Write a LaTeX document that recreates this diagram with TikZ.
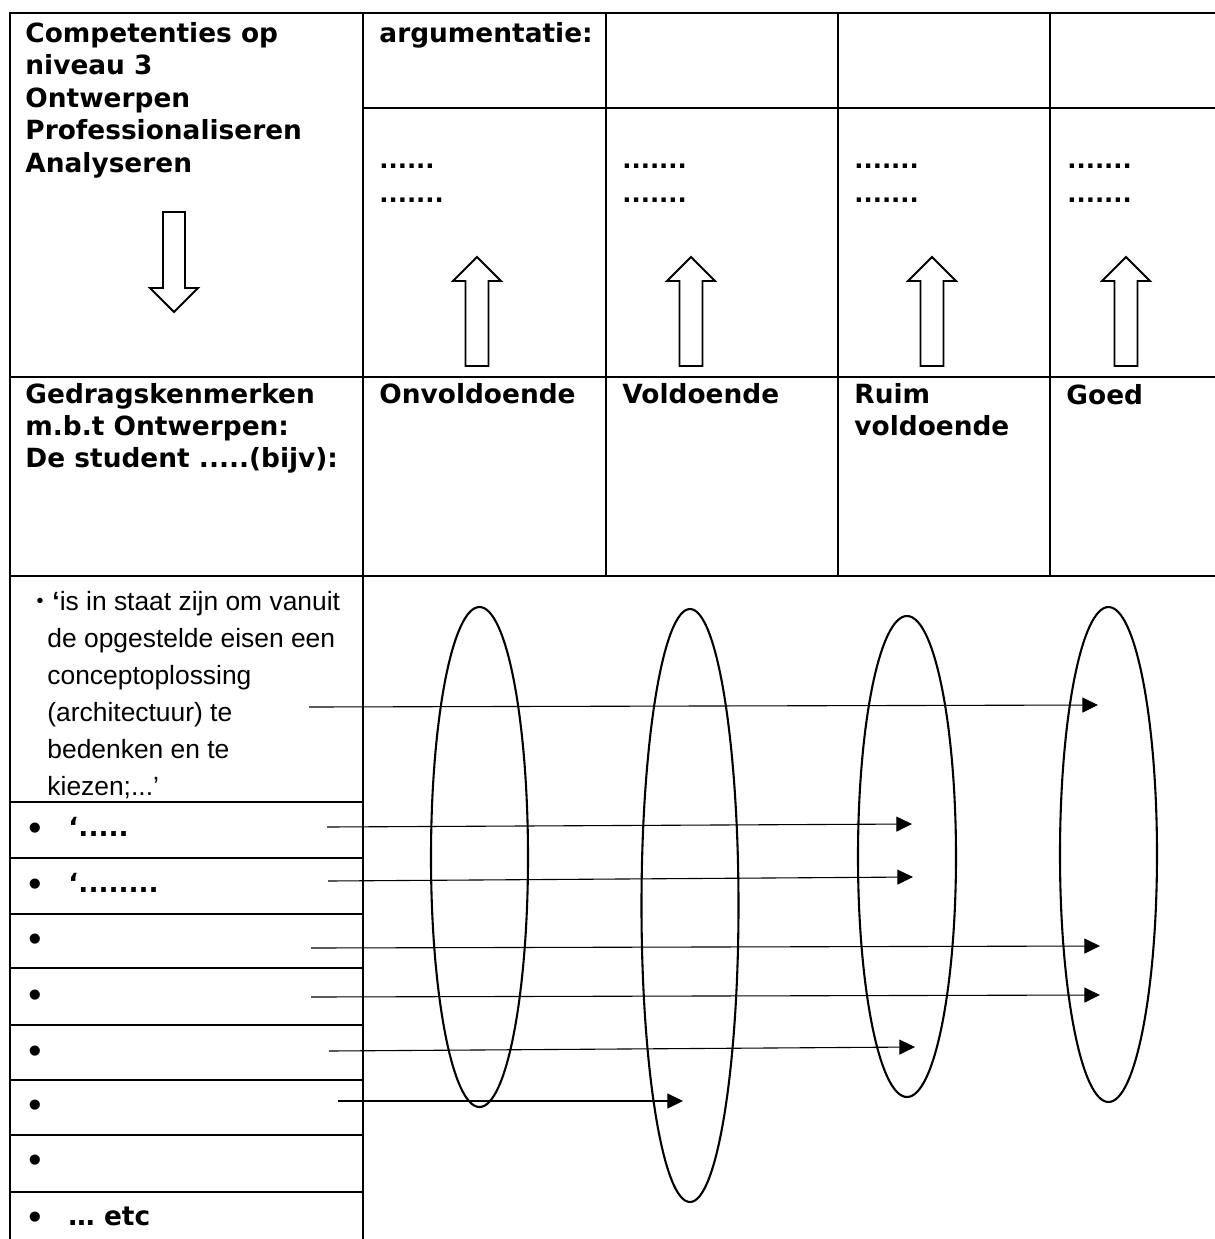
\documentclass[tikz,border=0pt]{standalone}
\usepackage{fontspec}
\setmainfont{Liberation Sans}
\newfontfamily\verd{DejaVu Sans}
\usetikzlibrary{arrows.meta,shapes.geometric}
\begin{document}
\begin{tikzpicture}[x=0.454545pt,y=-0.454545pt,
  grid/.style={line width=0.95pt},
  oval/.style={draw,ellipse,line width=0.95pt,inner sep=0pt},
  link/.style={line width=0.5pt,-{Triangle[length=7.1pt,width=6.8pt]}},
  blockarrow/.style={line width=0.85pt,line join=miter},
  vb/.style={font=\verd\bfseries\fontsize{12pt}{14.5pt}\selectfont,anchor=base west,inner sep=0pt},
  ar/.style={font=\fontsize{12pt}{14.5pt}\selectfont,anchor=base west,inner sep=0pt},
  dotstxt/.style={font=\verd\bfseries\fontsize{11pt}{14.5pt}\selectfont,anchor=base west,inner sep=0pt},
  bul/.style={font=\fontsize{17pt}{18pt}\selectfont,anchor=center,inner sep=0pt},
]
\useasboundingbox (0,0) rectangle (1215,1239);
\fill[white] (0,0) rectangle (1215,1239);
\clip (0,0) rectangle (1215,1239);

% table grid
\draw[grid] (10,1250) -- (10,13) -- (1230,13);
\draw[grid] (363,13) -- (363,1250);
\foreach \xx in {606,838,1050} \draw[grid] (\xx,13) -- (\xx,576);
\draw[grid] (363,108) -- (1230,108);
\draw[grid] (10,377) -- (1230,377);
\draw[grid] (10,576) -- (1230,576);
\foreach \yy in {802,858,914,968,1025,1080,1135,1192} \draw[grid] (10,\yy) -- (363,\yy);

% header column 1
\foreach \t [count=\i] in {Competenties op,niveau 3,Ontwerpen,Professionaliseren,Analyseren}
  \node[vb] (hc\i) at (25,{42+32.5*(\i-1)}) {\t};
\node[vb] (arg) at (379,42) {argumentatie:};

% dots
\node[dotstxt] (d2a) at (379,168) {......};
\node[dotstxt] (d2b) at (379,202) {.......};
\foreach \xx/\n in {622/3,854/4,1067/5}{
  \node[dotstxt] (d\n a) at (\xx,168) {.......};
  \node[dotstxt] (d\n b) at (\xx,202) {.......};
}

% block arrows
\draw[blockarrow] (163,212) -- (185,212) -- (185,288) -- (198,288) -- (174,312) -- (150,288) -- (163,288) -- cycle;
\foreach \cx in {477,691,932,1126}
  \draw[blockarrow] ({\cx-11.5},366) -- ({\cx+11.5},366) -- ({\cx+11.5},281) -- ({\cx+24},281) -- (\cx,257) -- ({\cx-24},281) -- ({\cx-11.5},281) -- cycle;

% row 3 headers
\node[vb] (g1) at (25,403) {Gedragskenmerken};
\node[vb] (g2) at (25,435) {m.b.t Ontwerpen:};
\node[vb] (g3) at (25,467) {De student .....(bijv):};
\node[vb] (onv) at (379,403) {Onvoldoende};
\node[vb] (vol) at (622,403) {Voldoende};
\node[vb] (ruim1) at (854,403) {Ruim};
\node[vb] (ruim2) at (854,435) {voldoende};
\node[vb] (goed) at (1066,404) {Goed};

% first list item
\node[bul,font=\fontsize{9pt}{10pt}\selectfont] (b0) at (40,603) {•};
\node[ar] (l1) at (52,610) {{\bfseries ‘}is in staat zijn om vanuit};
\node[ar] (l2) at (47,647) {de opgestelde eisen een};
\node[ar] (l3) at (47,684) {conceptoplossing};
\node[ar] (l4) at (47,721) {(architectuur) te};
\node[ar] (l5) at (47,758) {bedenken en te};
\node[ar] (l6) at (47,795) {kiezen;...’};

% other list items
\foreach \yy [count=\i] in {832,888,943,999,1055,1109,1164,1221}
  \node[bul] (b\i) at (35,\yy) {•};
\node[vb] (i2) at (68,836) {‘.....};
\node[vb] (i3) at (68,892) {‘........};
\node[vb] (i9) at (68,1225) {… etc};

% ellipses
\node[oval,minimum width=97*0.454545pt,minimum height=500*0.454545pt] (e1) at (479.5,857) {};
\node[oval,minimum width=97*0.454545pt,minimum height=593*0.454545pt] (e2) at (690,905.5) {};
\node[oval,minimum width=98*0.454545pt,minimum height=481*0.454545pt] (e3) at (907,856.5) {};
\node[oval,minimum width=97*0.454545pt,minimum height=495*0.454545pt] (e4) at (1108.5,854.5) {};

% connectors
\coordinate (s1) at (309,707);  \coordinate (t1) at (1098,705);
\coordinate (s2) at (327,827);  \coordinate (t2) at (912,824);
\coordinate (s3) at (328,881);  \coordinate (t3) at (913,877);
\coordinate (s4) at (311,948);  \coordinate (t4) at (1100,946);
\coordinate (s5) at (311,997);  \coordinate (t5) at (1100,995);
\coordinate (s6) at (329,1051); \coordinate (t6) at (915,1047);
\coordinate (s7) at (338,1101); \coordinate (t7) at (683,1101);
\foreach \i in {1,...,7} \draw[link] (s\i) -- (t\i);
\end{tikzpicture}
\end{document}
